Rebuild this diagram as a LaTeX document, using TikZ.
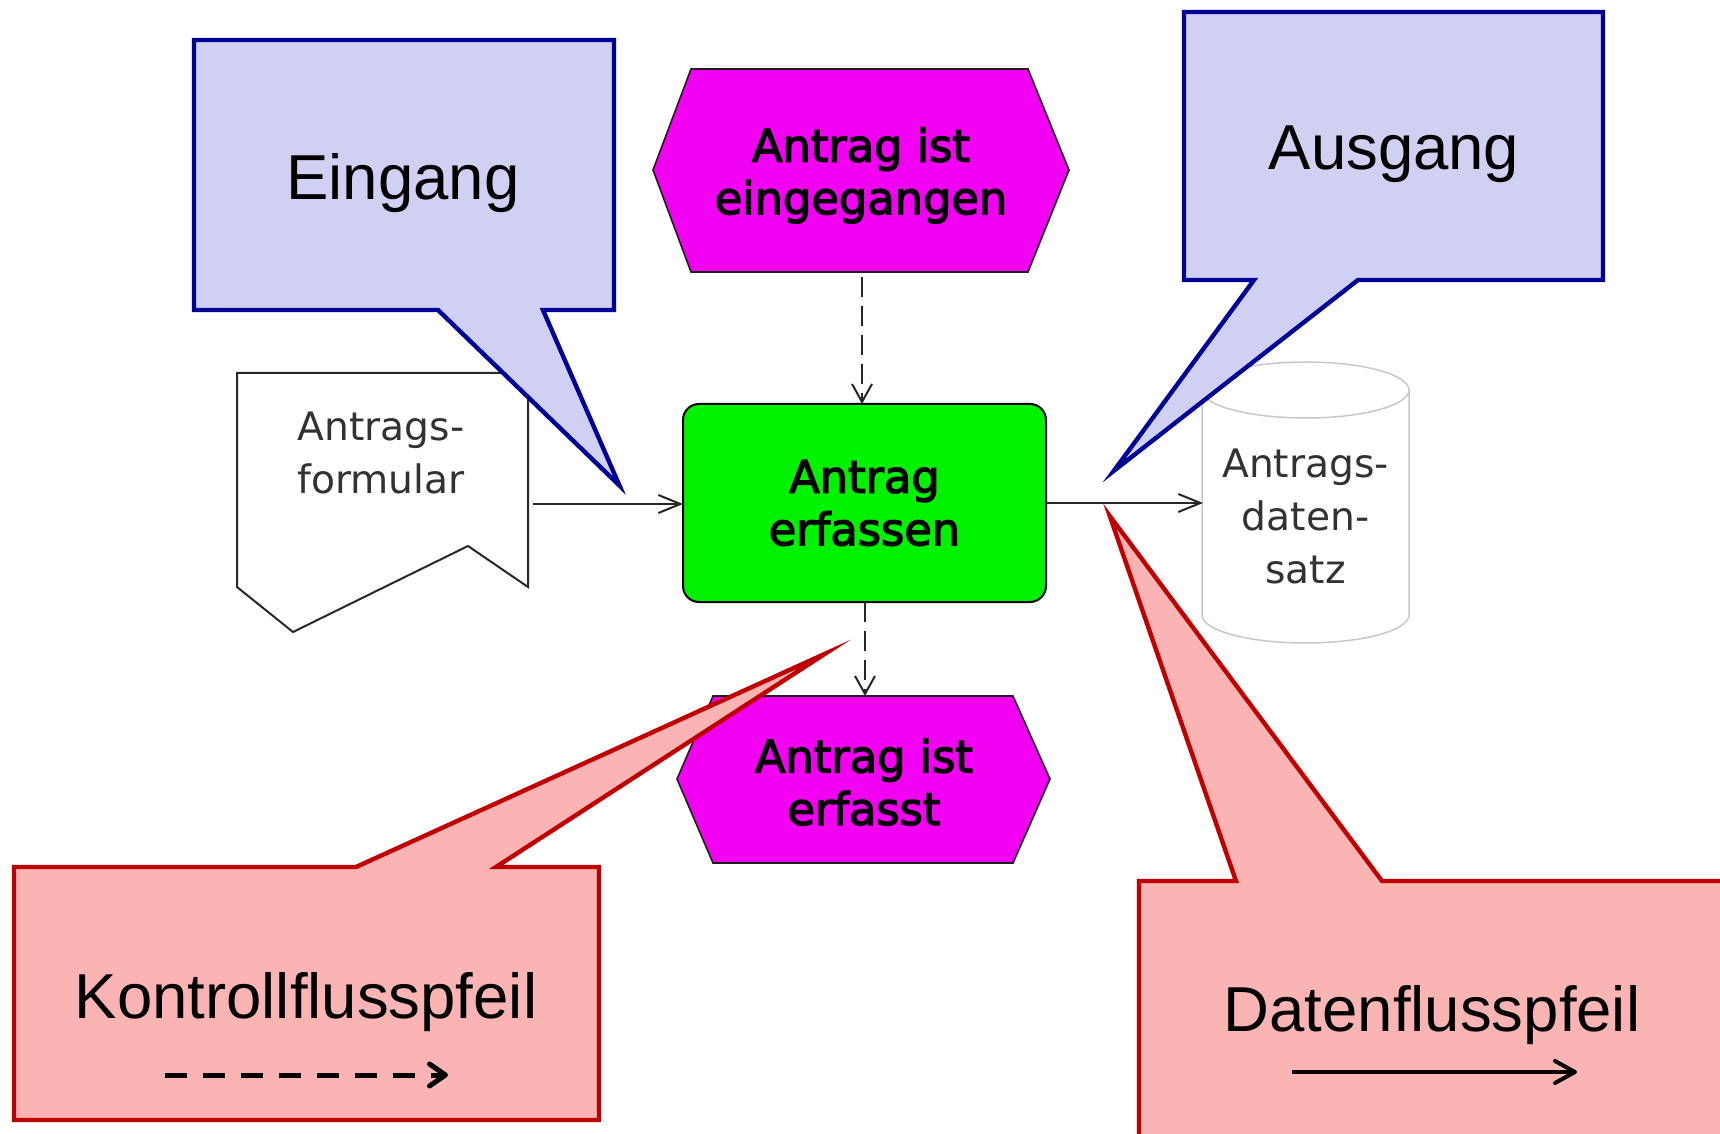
\documentclass[tikz,border=0pt]{standalone}
\usepackage{fontspec}
\setmainfont{Liberation Sans}
\newfontfamily\epcfont{DejaVu Sans}[FakeBold=3]
\newfontfamily\objfont{DejaVu Sans}
\usetikzlibrary{arrows.meta}
\definecolor{lav}{RGB}{208,208,242}
\definecolor{navy}{RGB}{0,0,153}
\definecolor{pinkf}{RGB}{251,180,180}
\definecolor{dred}{RGB}{192,0,0}
\definecolor{evtc}{RGB}{242,0,242}
\definecolor{fgreen}{RGB}{0,242,0}
\definecolor{objgray}{RGB}{50,50,50}
\definecolor{docline}{RGB}{40,40,40}
\definecolor{cylline}{RGB}{200,200,200}
\definecolor{evtline}{RGB}{30,30,30}
\tikzset{
  callblue/.style={draw=navy, fill=lav, line width=2.2pt, miter limit=20},
  callred/.style={draw=dred, fill=pinkf, line width=2.2pt, miter limit=20},
  calltxt/.style={font=\fontsize{31.75}{38}\selectfont, anchor=base, inner sep=0, text=black},
  evtshape/.style={draw=evtline, fill=evtc, line width=0.8pt},
  epctxt/.style={font=\epcfont\fontsize{22.35}{26.25}\selectfont, align=center, inner sep=0, text=black},
  objtxt/.style={font=\objfont\fontsize{19.6}{26.5}\selectfont, align=center, inner sep=0, text=objgray},
  docshape/.style={draw=docline, fill=white, line width=1pt},
  cylshape/.style={draw=cylline, line width=0.75pt},
  ctrl/.style={draw=black!85, line width=1pt, dash pattern=on 10pt off 4.5pt, -{Straight Barb[length=9pt,width=10pt]}},
  data/.style={draw=black!85, line width=1pt, -{Straight Barb[length=11pt,width=9pt]}},
  ctrllegend/.style={draw=black, line width=2.5pt, dash pattern=on 11pt off 8pt, -{Straight Barb[length=8pt,width=11pt,round]}},
  datalegend/.style={draw=black, line width=2pt, -{Straight Barb[length=10pt,width=11pt,round]}},
}
\begin{document}
\begin{tikzpicture}[x=0.5pt,y=-0.5pt]
\useasboundingbox (0,0) rectangle (1720,1134);
\clip (0,0) rectangle (1720,1134);
\fill[white] (0,0) rectangle (1720,1134);

% document
\draw[docshape] (237,373) -- (528,373) -- (528,587) -- (468,546) -- (293,632) -- (237,587) -- cycle;
\node[objtxt] (doc) at (381,452.75) {Antrags-\\formular};
\coordinate (docE) at (533,504);

% function
\node[draw=black, line width=1pt, fill=fgreen, rounded corners=8pt, minimum width=181.5pt, minimum height=99pt, outer sep=0pt, epctxt] (func) at (864.5,503) {Antrag\\erfassen};

% events
\draw[evtshape] (691,69) -- (1028,69) -- (1069,170) -- (1028,272) -- (691,272) -- (653,170) -- cycle;
\node[epctxt] (evt1) at (861,175.5) {Antrag ist\\eingegangen};
\coordinate (evt1s) at (862,277);

\draw[evtshape] (713,696) -- (1013,696) -- (1050,779) -- (1013,863) -- (713,863) -- (677,779) -- cycle;
\node[epctxt] (evt2) at (864,782) {Antrag ist\\erfasst};
\coordinate (evt2n) at (865,696);

% cylinder
\fill[white] (1202,390) -- (1202,615) arc[start angle=180, end angle=0, x radius=103.5, y radius=28] -- (1409,390) -- cycle;
\draw[cylshape] (1202,390) -- (1202,615) arc[start angle=180, end angle=0, x radius=103.5, y radius=28] -- (1409,390);
\draw[cylshape, fill=white] (1305.5,390) ellipse[x radius=103.5, y radius=28];
\node[objtxt] (cyl) at (1305.5,516.6) {Antrags-\\daten-\\satz};
\coordinate (cylW) at (1203,503);

% connectors
\draw[ctrl] (evt1s) -- (evt1s |- func.north);
\draw[ctrl] (evt2n |- func.south) -- (evt2n);
\draw[data] (docE) -- (func.west |- docE);
\draw[data] (func.east |- cylW) -- (cylW);

% callouts
\draw[callblue] (194,40) -- (614,40) -- (614,310) -- (543,310) -- (619.5,485.6) -- (438,310) -- (194,310) -- cycle;
\node[calltxt] (ein) at (403,200) {Eingang};

\draw[callblue] (1184,12) -- (1603,12) -- (1603,280) -- (1358,280) -- (1113.8,470.9) -- (1254,280) -- (1184,280) -- cycle;
\node[calltxt] (aus) at (1394,170) {Ausgang};

\draw[callred] (14,867) -- (356,867) -- (824.8,653.9) -- (496,867) -- (599,867) -- (599,1120) -- (14,1120) -- cycle;
\node[calltxt] (kon) at (306,1018) {Kontrollflusspfeil};
\coordinate (konA) at (165,1075);
\coordinate (konB) at (448,1075);
\draw[ctrllegend] (konA) -- (konB);

\draw[callred] (1139,881) -- (1236,881) -- (1109.8,516) -- (1382,881) -- (1740,881) -- (1740,1150) -- (1139,1150) -- cycle;
\node[calltxt] (dat) at (1432,1031) {Datenflusspfeil};
\coordinate (datA) at (1292,1072);
\coordinate (datB) at (1577,1072);
\draw[datalegend] (datA) -- (datB);
\end{tikzpicture}
\end{document}
